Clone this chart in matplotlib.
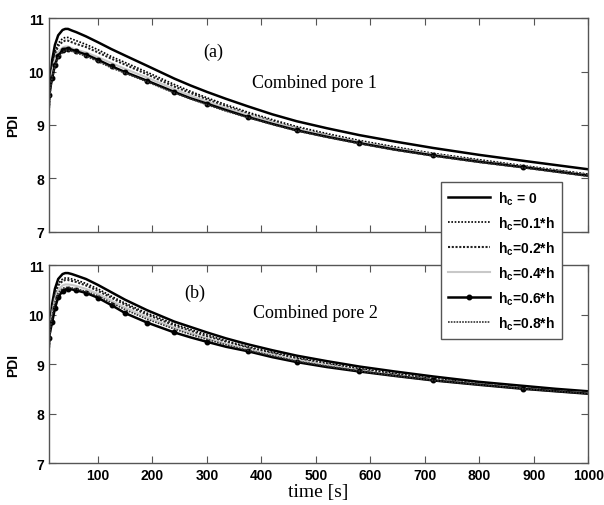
import numpy as np
import matplotlib.pyplot as plt

plt.rcParams['font.family'] = 'Liberation Sans'
plt.rcParams['mathtext.fontset'] = 'custom'
plt.rcParams['mathtext.rm'] = 'Liberation Sans:bold'
plt.rcParams['mathtext.it'] = 'Liberation Sans:bold'
plt.rcParams['mathtext.bf'] = 'Liberation Sans:bold'

# time grid [s]
t = [10, 13, 16, 21, 27, 35, 40, 45, 52, 60, 78, 100, 125, 150, 190, 240, 270,
     300, 335, 375, 420, 465, 520, 580, 645, 715, 800, 880, 940, 1000]
# points of the 0.6*h curve that carry a marker
marked = [0, 2, 3, 4, 5, 7, 9, 10, 11, 12, 13, 14, 15, 17, 19, 21, 23, 25, 27]

labels = ['h$_c$ = 0', 'h$_c$=0.1*h', 'h$_c$=0.2*h',
          'h$_c$=0.4*h', 'h$_c$=0.6*h', 'h$_c$=0.8*h']

# (a) combined pore 1
pore1_h0 = [9.35, 9.90, 10.22, 10.50, 10.68, 10.78, 10.80, 10.80, 10.77, 10.74, 10.66, 10.55, 10.42, 10.30, 10.11,
            9.87, 9.74, 9.62, 9.49, 9.35, 9.20, 9.07, 8.94, 8.81, 8.69, 8.57, 8.44, 8.33, 8.25, 8.17]
pore1_h01 = [9.32, 9.82, 10.12, 10.37, 10.53, 10.62, 10.64, 10.64, 10.61, 10.58, 10.51, 10.41, 10.28, 10.17, 9.99,
             9.76, 9.63, 9.51, 9.38, 9.24, 9.10, 8.97, 8.84, 8.71, 8.59, 8.47, 8.35, 8.24, 8.16, 8.08]
pore1_h02 = [9.30, 9.79, 10.08, 10.32, 10.48, 10.56, 10.58, 10.58, 10.55, 10.52, 10.46, 10.36, 10.24, 10.13, 9.95,
             9.72, 9.60, 9.48, 9.35, 9.21, 9.07, 8.94, 8.81, 8.68, 8.57, 8.45, 8.33, 8.22, 8.15, 8.07]
pore1_h04 = [9.28, 9.73, 10.00, 10.22, 10.37, 10.45, 10.47, 10.47, 10.44, 10.41, 10.36, 10.27, 10.16, 10.05, 9.89,
             9.67, 9.55, 9.44, 9.32, 9.19, 9.05, 8.93, 8.80, 8.68, 8.56, 8.45, 8.32, 8.22, 8.14, 8.06]
pore1_h06 = [9.56, 9.72, 9.88, 10.12, 10.30, 10.40, 10.43, 10.43, 10.41, 10.38, 10.32, 10.22, 10.10, 9.99, 9.83,
             9.62, 9.50, 9.40, 9.28, 9.15, 9.02, 8.90, 8.78, 8.66, 8.54, 8.43, 8.31, 8.21, 8.13, 8.05]
pore1_h08 = [9.26, 9.66, 9.90, 10.10, 10.26, 10.36, 10.40, 10.40, 10.38, 10.35, 10.29, 10.19, 10.07, 9.97, 9.81,
             9.60, 9.49, 9.38, 9.26, 9.14, 9.01, 8.89, 8.77, 8.65, 8.53, 8.42, 8.30, 8.20, 8.12, 8.04]

# (b) combined pore 2
pore2_h0 = [9.35, 9.90, 10.22, 10.52, 10.72, 10.82, 10.84, 10.84, 10.82, 10.79, 10.72, 10.60, 10.45, 10.30, 10.09,
            9.86, 9.75, 9.64, 9.52, 9.40, 9.28, 9.17, 9.06, 8.95, 8.85, 8.75, 8.64, 8.56, 8.50, 8.45]
pore2_h01 = [9.33, 9.85, 10.15, 10.44, 10.63, 10.72, 10.74, 10.74, 10.72, 10.70, 10.63, 10.52, 10.37, 10.23, 10.03,
             9.81, 9.70, 9.59, 9.47, 9.35, 9.24, 9.13, 9.02, 8.91, 8.81, 8.71, 8.61, 8.53, 8.47, 8.42]
pore2_h02 = [9.32, 9.82, 10.11, 10.40, 10.59, 10.68, 10.70, 10.70, 10.68, 10.66, 10.59, 10.48, 10.34, 10.20, 10.00,
             9.78, 9.67, 9.56, 9.45, 9.33, 9.22, 9.11, 9.00, 8.89, 8.79, 8.70, 8.60, 8.52, 8.46, 8.42]
pore2_h04 = [9.30, 9.77, 10.04, 10.31, 10.50, 10.59, 10.61, 10.61, 10.60, 10.58, 10.52, 10.42, 10.28, 10.14, 9.95,
             9.74, 9.63, 9.52, 9.41, 9.30, 9.19, 9.08, 8.98, 8.87, 8.77, 8.68, 8.59, 8.51, 8.45, 8.41]
pore2_h06 = [9.53, 9.70, 9.85, 10.13, 10.35, 10.48, 10.51, 10.51, 10.51, 10.49, 10.44, 10.34, 10.19, 10.03, 9.84,
             9.64, 9.54, 9.45, 9.35, 9.26, 9.14, 9.04, 8.94, 8.85, 8.76, 8.67, 8.58, 8.50, 8.45, 8.40]
pore2_h08 = [9.28, 9.73, 9.99, 10.25, 10.44, 10.53, 10.55, 10.55, 10.54, 10.52, 10.47, 10.38, 10.24, 10.10, 9.91,
             9.71, 9.60, 9.50, 9.39, 9.28, 9.17, 9.06, 8.96, 8.86, 8.76, 8.67, 8.58, 8.50, 8.45, 8.40]

styles = [
    dict(color='k', lw=1.8, ls='-'),
    dict(color='k', lw=1.2, ls=(0, (1, 1))),
    dict(color='#222222', lw=1.5, ls=(0, (1, 0.8))),
    dict(color='#c8c8c8', lw=1.5, ls='-'),
    dict(color='k', lw=1.8, ls='-', marker='.', ms=6.5, markevery=marked),
    dict(color='#333333', lw=1.2, ls=(0, (1, 0.7))),
]

fig = plt.figure(figsize=(6.04, 5.06), dpi=100)
ax1 = fig.add_axes([0.081, 0.540, 0.893, 0.422])
ax2 = fig.add_axes([0.081, 0.083, 0.893, 0.391])

panels = [
    (ax1, [pore1_h0, pore1_h01, pore1_h02, pore1_h04, pore1_h06, pore1_h08],
     '(a)', (311, 10.38), 'Combined pore 1', (383, 9.80)),
    (ax2, [pore2_h0, pore2_h01, pore2_h02, pore2_h04, pore2_h06, pore2_h08],
     '(b)', (277, 10.45), 'Combined pore 2', (385, 10.05)),
]

handles = []
for ax, series, tag, tag_xy, title, title_xy in panels:
    lines = []
    for y, st, lab in zip(series, styles, labels):
        ln, = ax.plot(t, y, label=lab, **st)
        lines.append(ln)
    handles = lines
    ax.set_xlim(10, 1000)
    ax.set_ylim(7, 11)
    ax.set_xticks(np.arange(100, 1001, 100))
    ax.set_yticks([7, 8, 9, 10, 11])
    ax.tick_params(direction='in', top=True, right=True, length=5,
                   color='#555555', labelsize=10)
    for lbl in ax.get_xticklabels() + ax.get_yticklabels():
        lbl.set_fontweight('bold')
    for sp in ax.spines.values():
        sp.set_color('#555555')
        sp.set_linewidth(1.0)
    ax.set_ylabel('PDI', fontsize=10, fontweight='bold', labelpad=6)
    ax.text(*tag_xy, tag, family='Liberation Serif', fontsize=13,
            ha='center', va='center')
    ax.text(*title_xy, title, family='Liberation Serif', fontsize=13,
            ha='left', va='center')

ax1.tick_params(labelbottom=False)
ax2.set_xlabel('time [s]', family='Liberation Serif', fontsize=14, labelpad=1)

# one legend for both panels, sitting across the gap between them
leg = fig.legend(handles=handles, loc='upper left', bbox_to_anchor=(0.730, 0.638),
                 fontsize=10, handlelength=3.0, handletextpad=0.6,
                 labelspacing=0.55, borderpad=0.5, borderaxespad=0,
                 fancybox=False, framealpha=1, edgecolor='#555555')
leg.get_frame().set_linewidth(1.0)
for txt in leg.get_texts():
    txt.set_fontweight('bold')

fig.savefig('out.png', dpi=100)
